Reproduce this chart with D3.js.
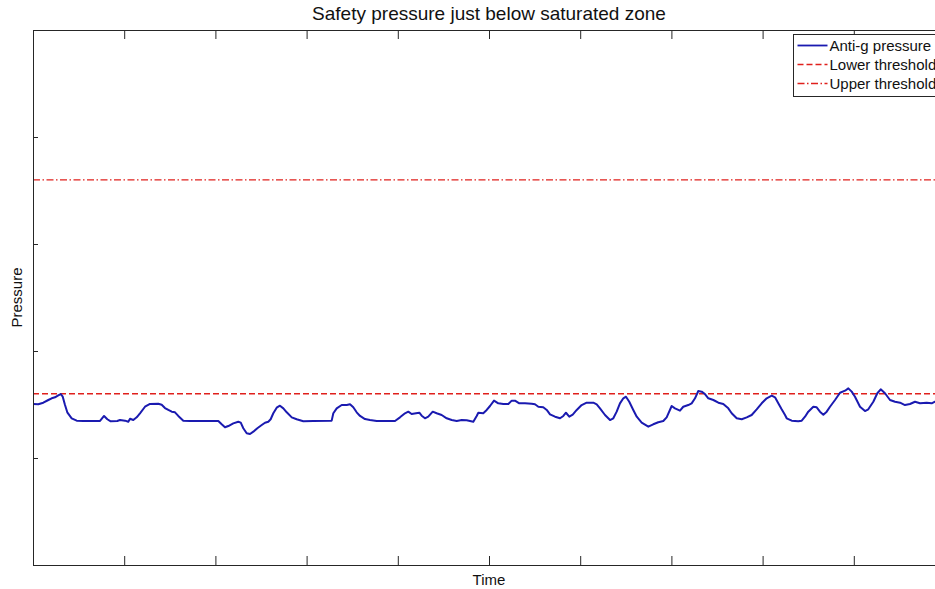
<!DOCTYPE html>
<html>
<head>
<meta charset="utf-8">
<script src="https://cdn.jsdelivr.net/npm/d3@7/dist/d3.min.js"></script>
<style>
  html, body { margin: 0; padding: 0; background: #fff; }
  svg { display: block; font-family: "Liberation Sans", Arial, Helvetica, sans-serif; }
</style>
</head>
<body>
<svg id="chart" width="935" height="589"></svg>
<script>
// Anti-g suit pressure trace (arbitrary time / pressure units)
const timeValues = [
  0.003, 0.058, 0.113, 0.168, 0.205, 0.241, 0.277, 0.304, 0.326, 0.351, 0.376, 0.424, 0.479, 0.552,
  0.735, 0.779, 0.815, 0.852, 0.924, 0.954, 1.009, 1.045, 1.064, 1.100, 1.137, 1.173, 1.228, 1.283,
  1.374, 1.411, 1.447, 1.484, 1.521, 1.557, 1.593, 1.648, 1.721, 2.032, 2.069, 2.105, 2.142, 2.196,
  2.251, 2.278, 2.306, 2.343, 2.379, 2.416, 2.460, 2.508, 2.544, 2.580, 2.606, 2.635, 2.672, 2.708,
  2.745, 2.782, 2.837, 2.891, 2.964, 3.073, 3.275, 3.293, 3.330, 3.385, 3.440, 3.476, 3.512, 3.549,
  3.586, 3.640, 3.695, 3.769, 3.969, 4.024, 4.079, 4.115, 4.152, 4.200, 4.236, 4.262, 4.298, 4.334,
  4.383, 4.426, 4.481, 4.536, 4.591, 4.646, 4.701, 4.755, 4.828, 4.865, 4.883, 4.937, 4.975, 5.011,
  5.055, 5.102, 5.157, 5.212, 5.249, 5.285, 5.332, 5.395, 5.468, 5.504, 5.541, 5.595, 5.633, 5.669,
  5.724, 5.779, 5.815, 5.844, 5.880, 5.918, 5.962, 6.016, 6.071, 6.144, 6.181, 6.217, 6.272, 6.327,
  6.363, 6.400, 6.436, 6.473, 6.502, 6.538, 6.582, 6.620, 6.674, 6.747, 6.801, 6.856, 6.911, 6.948,
  7.003, 7.039, 7.094, 7.130, 7.185, 7.222, 7.259, 7.295, 7.332, 7.368, 7.405, 7.460, 7.515, 7.569,
  7.624, 7.661, 7.716, 7.771, 7.826, 7.880, 7.935, 7.990, 8.045, 8.100, 8.136, 8.172, 8.209, 8.246,
  8.264, 8.319, 8.391, 8.429, 8.465, 8.501, 8.556, 8.593, 8.629, 8.666, 8.703, 8.739, 8.794, 8.849,
  8.904, 8.940, 8.977, 9.013, 9.068, 9.123, 9.159, 9.214, 9.258, 9.295, 9.342, 9.397, 9.452, 9.507,
  9.561, 9.616, 9.671, 9.726, 9.799, 9.854, 9.890, 10.000
];
const pressureValues = [
  1.505, 1.502, 1.517, 1.542, 1.558, 1.567, 1.586, 1.598, 1.573, 1.495, 1.427, 1.371, 1.349, 1.346,
  1.346, 1.393, 1.362, 1.343, 1.346, 1.355, 1.349, 1.339, 1.367, 1.355, 1.380, 1.418, 1.479, 1.505,
  1.507, 1.498, 1.467, 1.449, 1.433, 1.427, 1.393, 1.349, 1.346, 1.346, 1.315, 1.287, 1.299, 1.324,
  1.339, 1.330, 1.278, 1.231, 1.224, 1.246, 1.278, 1.308, 1.330, 1.339, 1.362, 1.418, 1.470, 1.489,
  1.464, 1.427, 1.380, 1.362, 1.343, 1.346, 1.349, 1.418, 1.464, 1.495, 1.495, 1.502, 1.474, 1.427,
  1.393, 1.364, 1.355, 1.346, 1.346, 1.380, 1.418, 1.433, 1.411, 1.418, 1.423, 1.395, 1.371, 1.386,
  1.433, 1.418, 1.402, 1.371, 1.355, 1.346, 1.355, 1.352, 1.339, 1.393, 1.423, 1.418, 1.449, 1.486,
  1.536, 1.511, 1.505, 1.505, 1.536, 1.536, 1.511, 1.511, 1.507, 1.502, 1.479, 1.474, 1.449, 1.408,
  1.386, 1.371, 1.393, 1.423, 1.386, 1.405, 1.449, 1.495, 1.517, 1.517, 1.502, 1.464, 1.402, 1.355,
  1.371, 1.433, 1.511, 1.558, 1.573, 1.526, 1.449, 1.386, 1.330, 1.293, 1.315, 1.334, 1.346, 1.380,
  1.486, 1.464, 1.442, 1.479, 1.495, 1.511, 1.558, 1.626, 1.620, 1.598, 1.558, 1.542, 1.517, 1.505,
  1.464, 1.418, 1.371, 1.362, 1.380, 1.402, 1.455, 1.511, 1.558, 1.582, 1.567, 1.511, 1.455, 1.402,
  1.371, 1.349, 1.343, 1.349, 1.386, 1.433, 1.479, 1.474, 1.433, 1.405, 1.433, 1.479, 1.542, 1.610,
  1.629, 1.651, 1.620, 1.573, 1.479, 1.439, 1.455, 1.526, 1.605, 1.642, 1.605, 1.542, 1.526, 1.517,
  1.495, 1.505, 1.526, 1.511, 1.517, 1.511, 1.526, 1.517
];
const lowerThreshold = 1.6;
const upperThreshold = 3.6;

const xTicks = [0, 1, 2, 3, 4, 5, 6, 7, 8, 9, 10];
const yTicks = [0, 1, 2, 3, 4, 5];

const titleText = "Safety pressure just below saturated zone";
const xLabel = "Time";
const yLabel = "Pressure";
const legendLabels = ["Anti-g pressure", "Lower threshold", "Upper threshold"];

// ---- layout ----
const plot = { left: 33, top: 30, right: 945, bottom: 565 };
const blue = "#1a1ab0";
const red = "#e0201c";
const axisColor = "#262626";

const svg = d3.select("#chart");
svg.append("rect").attr("width", 935).attr("height", 589).attr("fill", "#fff");

const x = d3.scaleLinear().domain([0, 10]).range([plot.left, plot.right]);
const y = d3.scaleLinear().domain([0, 5]).range([plot.bottom, plot.top]);

svg.append("defs").append("clipPath").attr("id", "plotClip")
  .append("rect")
  .attr("x", plot.left).attr("y", plot.top)
  .attr("width", plot.right - plot.left).attr("height", plot.bottom - plot.top);

// ---- axes: inward ticks, no tick labels ----
function styleAxis(g) {
  g.select(".domain").remove();
  g.selectAll(".tick line").attr("stroke", axisColor).attr("stroke-width", 1);
  g.selectAll(".tick text").remove();
}
const innerX = xTicks.slice(1, -1);
const innerY = yTicks.slice(1, -1);

svg.append("g").attr("transform", `translate(0,${plot.bottom})`)
  .call(d3.axisBottom(x).tickValues(innerX).tickSize(-9).tickFormat(""))
  .call(styleAxis);
svg.append("g").attr("transform", `translate(0,${plot.top})`)
  .call(d3.axisTop(x).tickValues(innerX).tickSize(-9).tickFormat(""))
  .call(styleAxis);
svg.append("g").attr("transform", `translate(${plot.left},0)`)
  .call(d3.axisLeft(y).tickValues(innerY).tickSize(-5).tickFormat(""))
  .call(styleAxis);
svg.append("g").attr("transform", `translate(${plot.right},0)`)
  .call(d3.axisRight(y).tickValues(innerY).tickSize(-5).tickFormat(""))
  .call(styleAxis);

// ---- data ----
const series = timeValues.map((t, i) => ({ t, p: pressureValues[i] }));
const plotArea = svg.append("g").attr("clip-path", "url(#plotClip)");

plotArea.append("line")
  .attr("x1", x(0)).attr("x2", x(10))
  .attr("y1", y(upperThreshold)).attr("y2", y(upperThreshold))
  .attr("stroke", red).attr("stroke-width", 1.3)
  .attr("stroke-dasharray", "7,2.5,1.5,2.5");

plotArea.append("line")
  .attr("x1", x(0)).attr("x2", x(10))
  .attr("y1", y(lowerThreshold)).attr("y2", y(lowerThreshold))
  .attr("stroke", red).attr("stroke-width", 1.5)
  .attr("stroke-dasharray", "6,3");

plotArea.append("path")
  .datum(series)
  .attr("fill", "none")
  .attr("stroke", blue)
  .attr("stroke-width", 2)
  .attr("stroke-linejoin", "round")
  .attr("d", d3.line().x(d => x(d.t)).y(d => y(d.p)));

// ---- frame ----
svg.append("rect")
  .attr("x", plot.left + 0.5).attr("y", plot.top + 0.5)
  .attr("width", plot.right - plot.left).attr("height", plot.bottom - plot.top)
  .attr("fill", "none").attr("stroke", axisColor).attr("stroke-width", 1);

// ---- titles ----
const cx = (plot.left + plot.right) / 2;
svg.append("text").attr("x", cx).attr("y", 20)
  .attr("text-anchor", "middle").attr("font-size", 19).attr("fill", "#111")
  .text(titleText);
svg.append("text").attr("x", cx).attr("y", 585)
  .attr("text-anchor", "middle").attr("font-size", 15).attr("fill", "#111")
  .text(xLabel);
svg.append("text")
  .attr("transform", `translate(22,${(plot.top + plot.bottom) / 2}) rotate(-90)`)
  .attr("text-anchor", "middle").attr("font-size", 15).attr("fill", "#111")
  .text(yLabel);

// ---- legend ----
const legend = svg.append("g").attr("transform", "translate(793.5,34.5)");
legend.append("rect").attr("width", 170).attr("height", 62)
  .attr("fill", "#fff").attr("stroke", axisColor).attr("stroke-width", 1);
const legendStyles = [
  { color: blue, dash: null, width: 1.8 },
  { color: red, dash: "6,3", width: 1.5 },
  { color: red, dash: "7,2.5,1.5,2.5", width: 1.3 }
];
legendLabels.forEach((label, i) => {
  const rowY = 11 + i * 19;
  const s = legendStyles[i];
  legend.append("line")
    .attr("x1", 4).attr("x2", 34).attr("y1", rowY).attr("y2", rowY)
    .attr("stroke", s.color).attr("stroke-width", s.width)
    .attr("stroke-dasharray", s.dash);
  legend.append("text").attr("x", 36).attr("y", rowY + 5)
    .attr("font-size", 15).attr("fill", "#111").text(label);
});
</script>
</body>
</html>
